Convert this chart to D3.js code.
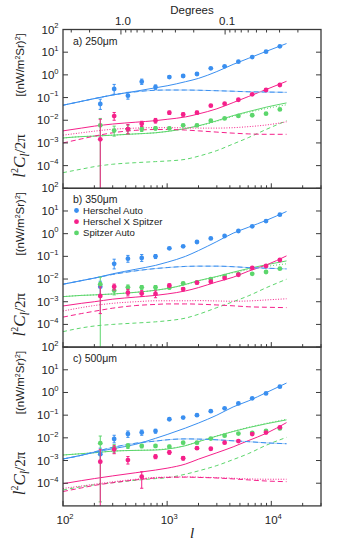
<!DOCTYPE html>
<html>
<head>
<meta charset="utf-8">
<script src="https://cdn.jsdelivr.net/npm/d3@7"></script>
<style>
  body { margin: 0; background: #fff; }
  svg { display: block; font-family: "Liberation Sans", Arial, sans-serif; }
</style>
</head>
<body>
<div id="chart"></div>
<script>
// multipole bins of the measured points
const ell = [228, 310, 420, 570, 773, 1050, 1425, 1933, 2624, 3561, 4832, 6558, 8900, 12078];
const modelEll = [100, 150, 200, 300, 500, 773, 1000, 1500, 2000, 3000, 4300, 6000, 9000, 14000];

const panelLabels = ["a) 250\u03bcm", "b) 350\u03bcm", "c) 500\u03bcm"];
const legendNames = ["Herschel Auto", "Herschel X Spitzer", "Spitzer Auto"];
const yTickExps = [2, 1, 0, -1, -2, -3, -4];
const xTickExps = [2, 3, 4];
const degreeLabels = [1.0, 0.1];

// ---- panel a) 250um ----
const herA = [0.052, 0.238, 0.121, 0.50, 0.29, 0.80, 0.89, 1.09, 1.95, 2.38, 3.8, 6.1, 10.5, 18.1];
const herAHi = [0.085, 0.38, 0.17, 0.65, 0.36, 0.9, 1.0, 1.2, 2.1, 2.55, 4.0, 6.4, 11, 19];
const herALo = [0.03, 0.14, 0.085, 0.38, 0.23, 0.71, 0.79, 0.98, 1.8, 2.2, 3.6, 5.8, 10, 17.2];
const crossA = [0.00144, 0.0153, 0.0041, 0.0070, 0.0095, 0.0215, 0.018, 0.0215, 0.044, 0.054, 0.080, 0.139, 0.215, 0.357];
const crossAHi = [0.011, 0.022, 0.0065, 0.009, 0.012, 0.025, 0.021, 0.025, 0.049, 0.06, 0.087, 0.15, 0.23, 0.38];
const crossALo = [1e-7, 0.010, 0.0025, 0.0053, 0.0075, 0.018, 0.015, 0.018, 0.04, 0.049, 0.073, 0.128, 0.2, 0.335];
const spiA = [0.006, 0.0035, 0.0040, 0.0041, 0.0044, 0.0044, 0.006, 0.006, 0.0096, 0.012, 0.0155, 0.0166, 0.0195, 0.030];
const spiAHi = [0.012, 0.0055, 0.006, 0.0052, 0.0052, 0.005, 0.0067, 0.0067, 0.0105, 0.013, 0.0167, 0.0178, 0.021, 0.032];
const spiALo = [1e-7, 0.002, 0.0026, 0.0032, 0.0037, 0.0039, 0.0054, 0.0054, 0.0088, 0.011, 0.0144, 0.0155, 0.0182, 0.028];

const herASolid = [0.046, 0.068, 0.09, 0.13, 0.19, 0.27, 0.33, 0.5, 0.7, 1.4, 2.9, 5.3, 11, 24];
const herADash = [0.046, 0.068, 0.09, 0.13, 0.18, 0.21, 0.215, 0.215, 0.21, 0.2, 0.19, 0.18, 0.175, 0.17];
const crossASolid = [0.0034, 0.0045, 0.0055, 0.0068, 0.0082, 0.0096, 0.011, 0.014, 0.019, 0.032, 0.06, 0.11, 0.23, 0.52];
const crossADash = [0.001, 0.0015, 0.002, 0.0028, 0.0036, 0.0039, 0.0039, 0.0037, 0.0034, 0.003, 0.0027, 0.0025, 0.0024, 0.0024];
const crossADot = [0.0022, 0.0028, 0.0033, 0.004, 0.0045, 0.0047, 0.0047, 0.0046, 0.0045, 0.0045, 0.0047, 0.0052, 0.0062, 0.0085];
const spiASolid = [0.00165, 0.0019, 0.002, 0.0022, 0.0025, 0.0028, 0.0032, 0.0043, 0.0057, 0.0095, 0.016, 0.024, 0.038, 0.058];
const spiADot = [0.00165, 0.0019, 0.002, 0.0022, 0.0025, 0.0028, 0.0032, 0.0043, 0.0056, 0.009, 0.015, 0.022, 0.033, 0.048];
const spiADash = [4.9e-5, 7e-5, 9e-5, 1.15e-4, 1.35e-4, 1.5e-4, 1.6e-4, 1.9e-4, 2.6e-4, 4.6e-4, 9e-4, 1.7e-3, 4e-3, 9.5e-3];

// ---- panel b) 350um ----
const herB = [0.0046, 0.047, 0.079, 0.085, 0.10, 0.226, 0.277, 0.43, 0.62, 0.79, 1.31, 2.1, 3.6, 6.9];
const herBHi = [0.008, 0.075, 0.11, 0.12, 0.12, 0.25, 0.3, 0.46, 0.66, 0.84, 1.38, 2.2, 3.8, 7.2];
const herBLo = [0.002, 0.028, 0.055, 0.06, 0.08, 0.205, 0.255, 0.4, 0.58, 0.74, 1.24, 2.0, 3.4, 6.6];
const crossB = [0.0018, 0.0046, 0.0025, 0.0023, 0.0022, 0.0052, 0.0036, 0.0069, 0.0076, 0.011, 0.0155, 0.031, 0.0376, 0.069];
const crossBHi = [0.0045, 0.006, 0.0035, 0.0031, 0.003, 0.006, 0.0042, 0.0078, 0.0085, 0.012, 0.0167, 0.033, 0.04, 0.073];
const crossBLo = [0.0003, 0.0033, 0.0018, 0.0017, 0.0015, 0.0045, 0.003, 0.0061, 0.0068, 0.010, 0.0144, 0.029, 0.0353, 0.065];
const spiB = [0.0059, 0.0031, 0.0043, 0.0043, 0.0043, 0.0042, 0.0065, 0.0072, 0.010, 0.0135, 0.0166, 0.017, 0.0204, 0.0285];
const spiBHi = [0.012, 0.0045, 0.0055, 0.0052, 0.0052, 0.0048, 0.0072, 0.0079, 0.011, 0.0145, 0.0178, 0.0182, 0.0218, 0.0302];
const spiBLo = [1e-7, 0.002, 0.0033, 0.0035, 0.0035, 0.0036, 0.0058, 0.0065, 0.0091, 0.0125, 0.0155, 0.0159, 0.019, 0.0268];

const herBSolid = [0.0059, 0.0085, 0.011, 0.017, 0.027, 0.04, 0.055, 0.1, 0.18, 0.45, 1.05, 1.9, 3.9, 9.5];
const herBDash = [0.0059, 0.0085, 0.011, 0.016, 0.023, 0.029, 0.032, 0.036, 0.037, 0.037, 0.035, 0.032, 0.03, 0.028];
const crossBSolid = [0.00065, 0.00085, 0.001, 0.0013, 0.0016, 0.0019, 0.0022, 0.003, 0.0042, 0.0075, 0.012, 0.022, 0.042, 0.105];
const crossBDash = [0.00021, 0.0003, 0.00038, 0.00052, 0.00068, 0.00076, 0.0008, 0.0008, 0.00078, 0.00072, 0.00066, 0.0006, 0.00057, 0.00055];
const crossBDot = [0.00039, 0.00055, 0.00068, 0.00085, 0.001, 0.0011, 0.0011, 0.0011, 0.00112, 0.00108, 0.00105, 0.00108, 0.0012, 0.00135];
const spiBSolid = [0.00168, 0.0019, 0.002, 0.0022, 0.0026, 0.0032, 0.0038, 0.0058, 0.0085, 0.013, 0.02, 0.029, 0.043, 0.063];
const spiBDot = [0.00168, 0.0019, 0.002, 0.0022, 0.0026, 0.0032, 0.0038, 0.0057, 0.0083, 0.0125, 0.019, 0.026, 0.036, 0.047];
const spiBDash = [4.8e-5, 7e-5, 8.5e-5, 1e-4, 1.15e-4, 1.3e-4, 1.45e-4, 1.9e-4, 2.8e-4, 5.5e-4, 1e-3, 1.8e-3, 4.2e-3, 9.8e-3];

// ---- panel c) 500um ----
const herC = [0.0019, 0.0089, 0.0148, 0.0174, 0.0198, 0.066, 0.078, 0.100, 0.15, 0.20, 0.33, 0.55, 0.91, 1.8];
const herCHi = [0.0035, 0.013, 0.02, 0.022, 0.024, 0.072, 0.085, 0.108, 0.16, 0.21, 0.35, 0.58, 0.95, 1.88];
const herCLo = [0.0008, 0.006, 0.0105, 0.013, 0.016, 0.06, 0.071, 0.092, 0.14, 0.19, 0.31, 0.52, 0.87, 1.72];
const crossC = [0.00089, 0.0031, 0.00105, 0.000195, 0.00148, 0.0023, 0.00126, 0.0035, 0.0033, 0.0061, 0.0072, 0.0147, 0.017, 0.029];
const crossCHi = [0.003, 0.0045, 0.0015, 0.00032, 0.0018, 0.0027, 0.0015, 0.0039, 0.0037, 0.0067, 0.0079, 0.0158, 0.0182, 0.031];
const crossCLo = [1e-7, 0.002, 0.0007, 0.00006, 0.0012, 0.0019, 0.00105, 0.0031, 0.0029, 0.0055, 0.0065, 0.0136, 0.0158, 0.027];
const spiC = [0.0058, 0.0035, 0.0044, 0.0044, 0.0044, 0.0041, 0.0061, 0.0061, 0.0093, 0.0124, 0.0155, 0.0167, 0.020, 0.026];
const spiCHi = [0.012, 0.005, 0.0055, 0.0052, 0.0051, 0.0047, 0.0068, 0.0068, 0.0101, 0.0134, 0.0167, 0.0179, 0.0214, 0.028];
const spiCLo = [1.5e-5, 0.0022, 0.0034, 0.0036, 0.0037, 0.0035, 0.0054, 0.0054, 0.0085, 0.0114, 0.0143, 0.0155, 0.0186, 0.024];

const herCSolid = [0.00117, 0.0017, 0.0023, 0.0033, 0.0052, 0.0095, 0.014, 0.027, 0.045, 0.1, 0.23, 0.42, 1.0, 2.6];
const herCDash = [0.00117, 0.0017, 0.0024, 0.0038, 0.0058, 0.0072, 0.0082, 0.009, 0.0088, 0.0082, 0.0074, 0.0068, 0.006, 0.0055];
const crossCSolid = [9.5e-5, 1.3e-4, 1.6e-4, 2.1e-4, 2.9e-4, 3.8e-4, 4.6e-4, 7e-4, 1.15e-3, 2.2e-3, 4e-3, 7.5e-3, 0.016, 0.047];
const crossCDash = [4.3e-5, 6.2e-5, 8e-5, 1.05e-4, 1.4e-4, 1.7e-4, 1.8e-4, 1.85e-4, 1.8e-4, 1.7e-4, 1.55e-4, 1.4e-4, 1.25e-4, 1.17e-4];
const crossCDot = [5.9e-5, 7.5e-5, 9e-5, 1.15e-4, 1.5e-4, 1.8e-4, 1.85e-4, 1.9e-4, 1.85e-4, 1.75e-4, 1.65e-4, 1.55e-4, 1.5e-4, 1.5e-4];
const spiCSolid = [0.00175, 0.002, 0.0022, 0.0026, 0.0028, 0.0029, 0.0032, 0.0045, 0.0068, 0.012, 0.019, 0.028, 0.042, 0.062];
const spiCDot = [0.00175, 0.002, 0.0022, 0.0026, 0.0028, 0.003, 0.0033, 0.0046, 0.0069, 0.0122, 0.0195, 0.029, 0.044, 0.066];
const spiCDash = [5e-5, 7e-5, 8.5e-5, 1.05e-4, 1.35e-4, 1.6e-4, 1.75e-4, 2.5e-4, 3.5e-4, 6e-4, 1.1e-3, 2e-3, 4.8e-3, 1.05e-2];

const BLUE = "#3a8ff0", BLUE_LIGHT = "#a6cdf7";
const PINK = "#f5208a";
const GREEN = "#5cd66c";
const colors = [BLUE, PINK, GREEN];

const panels = [
  {
    label: panelLabels[0],
    points: [[herA, herALo, herAHi, BLUE], [spiA, spiALo, spiAHi, GREEN], [crossA, crossALo, crossAHi, PINK]],
    lines: [
      [spiADash, GREEN, "4,3"], [spiADot, GREEN, "1,2"], [spiASolid, GREEN, null],
      [crossADot, PINK, "1,1.6"], [crossADash, PINK, "5,3"], [crossASolid, PINK, null],
      [herADash, BLUE_LIGHT, null], [herADash, BLUE, "5,3"], [herASolid, BLUE, null]
    ]
  },
  {
    label: panelLabels[1],
    points: [[herB, herBLo, herBHi, BLUE], [spiB, spiBLo, spiBHi, GREEN], [crossB, crossBLo, crossBHi, PINK]],
    lines: [
      [spiBDash, GREEN, "4,3"], [spiBDot, GREEN, "1,2"], [spiBSolid, GREEN, null],
      [crossBDot, PINK, "1,1.6"], [crossBDash, PINK, "5,3"], [crossBSolid, PINK, null],
      [herBDash, BLUE_LIGHT, null], [herBDash, BLUE, "5,3"], [herBSolid, BLUE, null]
    ],
    legend: true
  },
  {
    label: panelLabels[2],
    points: [[herC, herCLo, herCHi, BLUE], [spiC, spiCLo, spiCHi, GREEN], [crossC, crossCLo, crossCHi, PINK]],
    lines: [
      [spiCDash, GREEN, "4,3"], [spiCDot, GREEN, "1,2"], [spiCSolid, GREEN, null],
      [crossCDot, PINK, "1,1.6"], [crossCDash, PINK, "5,3"], [crossCSolid, PINK, null],
      [herCDash, BLUE_LIGHT, null], [herCDash, BLUE, "5,3"], [herCSolid, BLUE, null]
    ]
  }
];

const W = 340, H = 546;
const left = 63, right = 321, top0 = 29.5, panelH = 158.8;
const AXIS = "#3a3a3a";

const svg = d3.select("#chart").append("svg").attr("width", W).attr("height", H);

const x = d3.scaleLog().domain([100, 30000]).range([left, right]);
const xMinor = [];
for (let e = 2; e <= 4; e++) for (let m = 2; m <= 9; m++) { const v = m * Math.pow(10, e); if (v <= 30000) xMinor.push(v); }

// superscript helper: "10" + exponent
function powerLabel(sel, exp, size) {
  sel.append("tspan").text("10");
  sel.append("tspan").attr("dy", -size * 0.45).attr("font-size", size * 0.66)
    .text(exp < 0 ? "\u2212" + (-exp) : String(exp));
}

panels.forEach((p, i) => {
  const top = top0 + i * panelH;
  const bottom = top + panelH;
  const y = d3.scaleLog().domain([1e-5, 1e2]).range([bottom, top]);
  const g = svg.append("g");

  const clipId = "clip" + i;
  svg.append("clipPath").attr("id", clipId).append("rect")
    .attr("x", left).attr("y", top).attr("width", right - left).attr("height", panelH);

  const plot = g.append("g").attr("clip-path", `url(#${clipId})`);

  // model curves
  const line = d3.line().x((d, k) => x(modelEll[k])).y(d => y(d)).curve(d3.curveMonotoneX);
  p.lines.forEach(([vals, col, dash]) => {
    plot.append("path").attr("d", line(vals)).attr("fill", "none")
      .attr("stroke", col).attr("stroke-width", 1)
      .attr("stroke-dasharray", dash);
  });

  // points with error bars
  p.points.forEach(([vals, lo, hi, col]) => {
    const pts = vals.map((v, k) => ({ l: ell[k], v, lo: lo[k], hi: hi[k] }));
    const eg = plot.append("g").attr("stroke", col).attr("stroke-width", 1);
    eg.selectAll("line.bar").data(pts).join("line").attr("class", "bar")
      .attr("x1", d => x(d.l)).attr("x2", d => x(d.l))
      .attr("y1", d => y(Math.max(d.lo, 1e-7))).attr("y2", d => y(d.hi));
    eg.selectAll("line.cap").data(pts.flatMap(d => [d.hi, d.lo].map(c => ({ l: d.l, c })))).join("line")
      .attr("class", "cap")
      .attr("x1", d => x(d.l) - 1.6).attr("x2", d => x(d.l) + 1.6)
      .attr("y1", d => y(Math.max(d.c, 1e-7))).attr("y2", d => y(Math.max(d.c, 1e-7)));
    plot.append("g").selectAll("circle").data(pts).join("circle")
      .attr("cx", d => x(d.l)).attr("cy", d => y(d.v)).attr("r", 2.4).attr("fill", col);
  });

  // frame
  g.append("rect").attr("x", left).attr("y", top).attr("width", right - left).attr("height", panelH)
    .attr("fill", "none").attr("stroke", AXIS).attr("stroke-width", 1.3);

  // y ticks (both sides, inward) and labels
  const yt = d3.range(-4, 3);
  g.selectAll("line.yl").data(yt).join("line")
    .attr("x1", left).attr("x2", left + 5).attr("y1", e => y(Math.pow(10, e))).attr("y2", e => y(Math.pow(10, e)))
    .attr("stroke", AXIS);
  g.selectAll("line.yr").data(yt).join("line")
    .attr("x1", right).attr("x2", right - 5).attr("y1", e => y(Math.pow(10, e))).attr("y2", e => y(Math.pow(10, e)))
    .attr("stroke", AXIS);
  yTickExps.forEach(e => {
    const t = g.append("text").attr("x", 58.5).attr("y", y(Math.pow(10, e)) + 4)
      .attr("text-anchor", "end").attr("font-size", 11.5).attr("fill", "#222");
    powerLabel(t, e, 11.5);
  });

  // x ticks on bottom edge, inward
  g.selectAll("line.xM").data(xTickExps).join("line")
    .attr("x1", e => x(Math.pow(10, e))).attr("x2", e => x(Math.pow(10, e)))
    .attr("y1", bottom).attr("y2", bottom - 5).attr("stroke", AXIS);
  g.selectAll("line.xm").data(xMinor).join("line")
    .attr("x1", d => x(d)).attr("x2", d => x(d)).attr("y1", bottom).attr("y2", bottom - 3).attr("stroke", AXIS);

  // panel label
  g.append("text").attr("x", 73).attr("y", top + 15).attr("font-size", 10.5).attr("fill", "#222").text(p.label);

  // legend
  if (p.legend) {
    legendNames.forEach((name, k) => {
      const ly = top + 22.2 + k * 11.2;
      g.append("circle").attr("cx", 76.5).attr("cy", ly).attr("r", 2.4).attr("fill", colors[k]);
      g.append("text").attr("x", 83).attr("y", ly + 3.4).attr("font-size", 9.6).attr("fill", "#222").text(name);
    });
  }

  // y axis title, two pieces rotated
  const cy = (top + bottom) / 2;
  const t1 = g.append("text").attr("transform", `translate(25,${cy + 47}) rotate(-90)`)
    .attr("text-anchor", "middle").attr("font-family", "'Liberation Serif', serif")
    .attr("font-style", "italic").attr("font-size", 17).attr("fill", "#222");
  t1.append("tspan").text("l");
  t1.append("tspan").attr("dy", -7).attr("font-size", 10).attr("font-style", "normal").text("2");
  t1.append("tspan").attr("dy", 7).text("C");
  t1.append("tspan").attr("dy", 3.5).attr("font-size", 12).text("l");
  t1.append("tspan").attr("dy", -3.5).attr("font-style", "normal").attr("font-size", 15).text("/2\u03c0");

  const t2 = g.append("text").attr("transform", `translate(24,${cy - 44}) rotate(-90)`)
    .attr("text-anchor", "middle").attr("font-size", 11.5).attr("fill", "#222");
  t2.append("tspan").text("[(nW/m");
  t2.append("tspan").attr("dy", -4.5).attr("font-size", 7).text("2");
  t2.append("tspan").attr("dy", 4.5).text("Sr)");
  t2.append("tspan").attr("dy", -4.5).attr("font-size", 7).text("2");
  t2.append("tspan").attr("dy", 4.5).text("]");
});

// bottom tick labels
const bottomY = top0 + 3 * panelH;
xTickExps.forEach(e => {
  const t = svg.append("text").attr("x", x(Math.pow(10, e)) + 2).attr("y", bottomY + 18.5)
    .attr("text-anchor", "middle").attr("font-size", 11.5).attr("fill", "#222");
  powerLabel(t, e, 11.5);
});
svg.append("text").attr("x", (left + right) / 2).attr("y", bottomY + 32)
  .attr("text-anchor", "middle").attr("font-family", "'Liberation Serif', serif")
  .attr("font-style", "italic").attr("font-size", 15).attr("fill", "#222").text("l");

// top axis in degrees: theta = 360 / l
const degToEll = d => 360 / d;
const degMinor = [];
[1, 0.1, 0.01].forEach(base => { for (let m = 2; m <= 9; m++) { const l = degToEll(m * base); if (l >= 100 && l <= 30000) degMinor.push(l); } });
svg.selectAll("line.dM").data(degreeLabels).join("line")
  .attr("x1", d => x(degToEll(d))).attr("x2", d => x(degToEll(d)))
  .attr("y1", top0).attr("y2", top0 + 5).attr("stroke", AXIS);
svg.selectAll("line.dm").data(degMinor).join("line")
  .attr("x1", d => x(d)).attr("x2", d => x(d)).attr("y1", top0).attr("y2", top0 + 3).attr("stroke", AXIS);
svg.selectAll("text.dl").data(degreeLabels).join("text")
  .attr("x", d => x(degToEll(d)) + 2).attr("y", top0 - 5)
  .attr("text-anchor", "middle").attr("font-size", 11.5).attr("fill", "#222")
  .text(d => d.toFixed(1));
svg.append("text").attr("x", (left + right) / 2).attr("y", 13.5)
  .attr("text-anchor", "middle").attr("font-size", 11.5).attr("fill", "#222").text("Degrees");
</script>
</body>
</html>
